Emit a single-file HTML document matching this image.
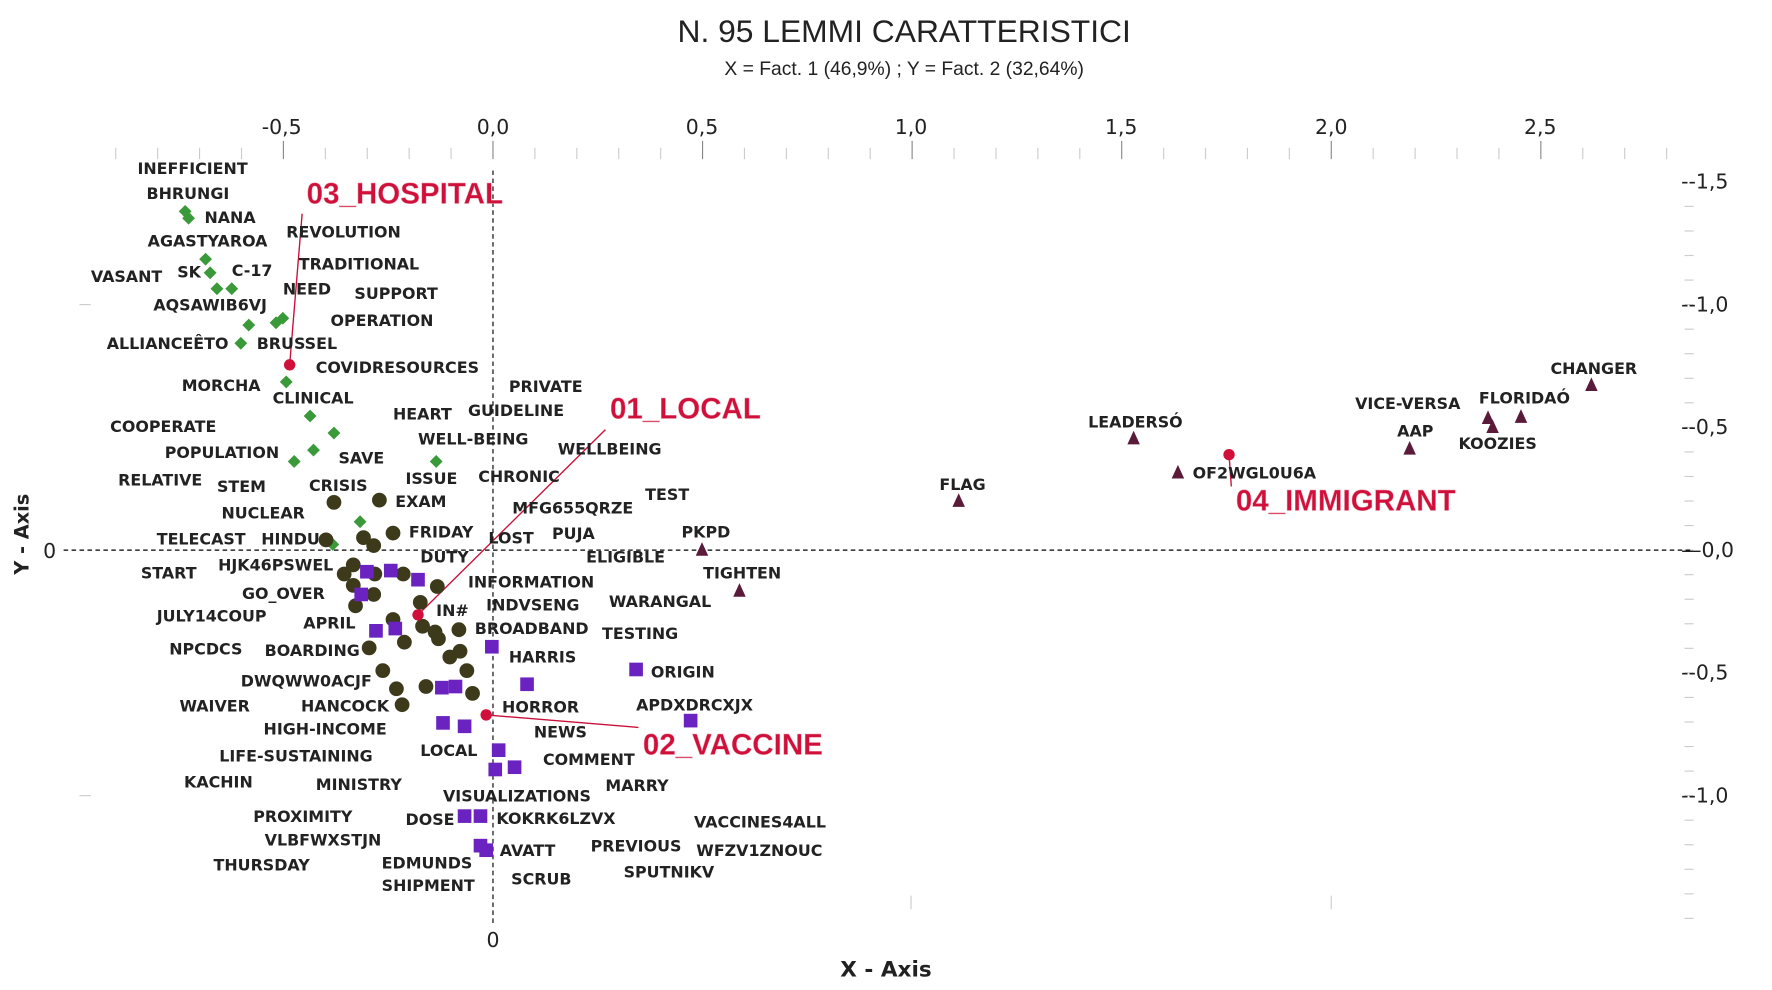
<!DOCTYPE html>
<html><head><meta charset="utf-8"><style>
html,body{margin:0;padding:0;background:#fff;overflow:hidden}
svg{display:block}
.l{font-family:"DejaVu Sans","Liberation Sans",sans-serif;font-weight:bold;font-size:14px;fill:#222}
.r{font-family:"Liberation Sans",sans-serif;font-size:26px;font-weight:bold;fill:#d0103a;stroke:#e8a0b0;stroke-width:0.4}
.t{font-family:"DejaVu Sans","Liberation Sans",sans-serif;font-size:18px;fill:#222}
</style></head><body>
<svg width="1772" height="990" viewBox="0 0 1560 871" preserveAspectRatio="none" xmlns="http://www.w3.org/2000/svg">
<text x="796" y="37" text-anchor="middle" font-family="Liberation Sans,sans-serif" font-size="28" fill="#222">N. 95 LEMMI CARATTERISTICI</text>
<text x="796" y="66" text-anchor="middle" font-family="Liberation Sans,sans-serif" font-size="17" fill="#222">X = Fact. 1 (46,9%) ; Y = Fact. 2 (32,64%)</text>
<g id="ticks" stroke="#bbb" stroke-width="1"></g>
<g class="t">
<text x="248" y="118" text-anchor="middle">-0,5</text><text x="434" y="118" text-anchor="middle">0,0</text><text x="618" y="118" text-anchor="middle">0,5</text><text x="802" y="118" text-anchor="middle">1,0</text><text x="987" y="118" text-anchor="middle">1,5</text><text x="1172" y="118" text-anchor="middle">2,0</text><text x="1356" y="118" text-anchor="middle">2,5</text>
<text x="1480" y="166">--1,5</text><text x="1480" y="274">--1,0</text><text x="1480" y="382">--0,5</text><text x="1480" y="490">—0,0</text><text x="1480" y="598">--0,5</text><text x="1480" y="706">--1,0</text>
<text x="434" y="833" text-anchor="middle">0</text><text x="38" y="491">0</text>
</g>
<text x="780" y="859" text-anchor="middle" font-family="DejaVu Sans,sans-serif" font-weight="bold" font-size="19" fill="#222">X - Axis</text>
<text transform="translate(25,470) rotate(-90)" text-anchor="middle" font-family="DejaVu Sans,sans-serif" font-weight="bold" font-size="17" fill="#222">Y - Axis</text>
<line x1="434" y1="150" x2="434" y2="812" stroke="#000" stroke-dasharray="4,3"/>
<line x1="56" y1="484" x2="1490" y2="484" stroke="#000" stroke-dasharray="4,3"/>
<g stroke="#c8103a" stroke-width="1.2">
<line x1="255" y1="321" x2="266" y2="188"/><line x1="368" y1="541" x2="533" y2="378"/><line x1="428" y1="629" x2="562" y2="640"/><line x1="1082" y1="400" x2="1084" y2="428"/>
</g>
<g id="pts"></g>
<g class="l">
<text x="121" y="153">INEFFICIENT</text><text x="129" y="175">BHRUNGI</text><text x="180" y="196">NANA</text><text x="130" y="217">AGASTYAROA</text><text x="252" y="209">REVOLUTION</text>
<text x="80" y="248">VASANT</text><text x="156" y="244">SK</text><text x="204" y="243">C-17</text><text x="263" y="237">TRADITIONAL</text>
<text x="249" y="259">NEED</text><text x="312" y="263">SUPPORT</text><text x="135" y="273">AQSAWIB6VJ</text><text x="291" y="287">OPERATION</text>
<text x="94" y="307">ALLIANCEÊTO</text><text x="226" y="307">BRUSSEL</text><text x="278" y="328">COVIDRESOURCES</text>
<text x="160" y="344">MORCHA</text><text x="448" y="345">PRIVATE</text><text x="240" y="355">CLINICAL</text><text x="346" y="369">HEART</text><text x="412" y="366">GUIDELINE</text>
<text x="97" y="380">COOPERATE</text><text x="368" y="391">WELL-BEING</text><text x="491" y="400">WELLBEING</text><text x="145" y="403">POPULATION</text><text x="298" y="408">SAVE</text>
<text x="104" y="427">RELATIVE</text><text x="191" y="433">STEM</text><text x="357" y="426">ISSUE</text><text x="421" y="424">CHRONIC</text><text x="272" y="432">CRISIS</text>
<text x="348" y="446">EXAM</text><text x="568" y="440">TEST</text><text x="195" y="456">NUCLEAR</text><text x="451" y="452">MFG655QRZE</text><text x="360" y="473">FRIDAY</text>
<text x="138" y="479">TELECAST</text><text x="230" y="479">HINDU</text><text x="430" y="478">LOST</text><text x="486" y="474">PUJA</text><text x="600" y="473">PKPD</text>
<text x="370" y="495">DUTY</text><text x="516" y="495">ELIGIBLE</text><text x="124" y="509">START</text><text x="192" y="502">HJK46PSWEL</text><text x="619" y="509">TIGHTEN</text>
<text x="412" y="517">INFORMATION</text><text x="213" y="527">GO_OVER</text><text x="536" y="534">WARANGAL</text><text x="428" y="537">INDVSENG</text><text x="138" y="547">JULY14COUP</text>
<text x="267" y="553">APRIL</text><text x="384" y="542">IN#</text><text x="418" y="558">BROADBAND</text><text x="530" y="562">TESTING</text><text x="149" y="576">NPCDCS</text><text x="233" y="577">BOARDING</text>
<text x="448" y="583">HARRIS</text><text x="573" y="596">ORIGIN</text><text x="212" y="604">DWQWW0ACJF</text><text x="158" y="626">WAIVER</text><text x="265" y="626">HANCOCK</text>
<text x="442" y="627">HORROR</text><text x="560" y="625">APDXDRCXJX</text><text x="232" y="646">HIGH-INCOME</text><text x="470" y="649">NEWS</text>
<text x="193" y="670">LIFE-SUSTAINING</text><text x="370" y="665">LOCAL</text><text x="478" y="673">COMMENT</text><text x="162" y="693">KACHIN</text><text x="278" y="695">MINISTRY</text>
<text x="533" y="696">MARRY</text><text x="390" y="705">VISUALIZATIONS</text><text x="223" y="723">PROXIMITY</text><text x="357" y="726">DOSE</text><text x="437" y="725">KOKRK6LZVX</text>
<text x="611" y="728">VACCINES4ALL</text><text x="233" y="744">VLBFWXSTJN</text><text x="440" y="753">AVATT</text><text x="520" y="749">PREVIOUS</text><text x="613" y="753">WFZV1ZNOUC</text>
<text x="188" y="766">THURSDAY</text><text x="336" y="764">EDMUNDS</text><text x="549" y="772">SPUTNIKV</text><text x="336" y="784">SHIPMENT</text><text x="450" y="778">SCRUB</text>
<text x="827" y="431">FLAG</text><text x="958" y="376">LEADERSÓ</text><text x="1050" y="421">OF2WGL0U6A</text><text x="1365" y="329">CHANGER</text>
<text x="1193" y="360">VICE-VERSA</text><text x="1302" y="355">FLORIDAÓ</text><text x="1230" y="384">AAP</text><text x="1284" y="395">KOOZIES</text>
</g>
<g class="r">
<text x="270" y="179">03_HOSPITAL</text><text x="537" y="368">01_LOCAL</text><text x="566" y="664">02_VACCINE</text><text x="1088" y="449">04_IMMIGRANT</text>
</g>
</svg>
<script>
var NS="http://www.w3.org/2000/svg";
function el(p,n,a){var e=document.createElementNS(NS,n);for(var k in a)e.setAttribute(k,a[k]);p.appendChild(e);return e;}
var tk=document.getElementById("ticks");
for(var i=-9;i<=28;i++){var x=434+i*36.9;var maj=(i%5==0);el(tk,"line",{x1:x,y1:maj?124:130,x2:x,y2:140,stroke:maj?"#888":"#ccc"});}
for(var j=-15;j<=14;j++){var y=484-j*21.6;el(tk,"line",{x1:1483,y1:y,x2:1491,y2:y,stroke:"#ccc"});}
[802,1172].forEach(function(x){el(tk,"line",{x1:x,y1:788,x2:x,y2:800,stroke:"#ccc"});});
[268,700].forEach(function(y){el(tk,"line",{x1:70,y1:y,x2:80,y2:y,stroke:"#ccc"});});
var P=document.getElementById("pts");
var g=[[163,186],[166,192],[181,228],[185,240],[191,254],[204,254],[219,286],[243,284],[249,280],[212,302],[252,336],[273,366],[294,381],[276,396],[259,406],[384,406],[317,459],[293,479]];
g.forEach(function(p){el(P,"rect",{x:p[0]-4,y:p[1]-4,width:8,height:8,fill:"#3a9a3a",transform:"rotate(45 "+p[0]+" "+p[1]+")"});});
var c=[[294,442],[334,440],[346,469],[320,473],[329,480],[287,475],[311,497],[303,505],[330,505],[355,505],[313,533],[370,530],[385,516],[329,523],[346,545],[372,551],[383,556],[404,554],[386,562],[356,565],[325,570],[396,578],[337,590],[411,590],[375,604],[349,606],[416,610],[354,620],[405,573],[311,515]];
c.forEach(function(p){el(P,"circle",{cx:p[0],cy:p[1],r:6.5,fill:"#3d3a1c"});});
var s=[[323,503],[344,502],[368,510],[318,523],[331,555],[348,553],[433,569],[464,602],[560,589],[389,605],[401,604],[390,636],[409,639],[608,634],[439,660],[436,677],[453,675],[409,718],[423,718],[423,744],[428,748]];
s.forEach(function(p){el(P,"rect",{x:p[0]-6,y:p[1]-6,width:12,height:12,fill:"#6a22c0"});});
var t=[[618,484],[651,520],[844,441],[998,386],[1037,416],[1241,395],[1310,368],[1314,376],[1339,367],[1401,339]];
t.forEach(function(p){el(P,"polygon",{points:(p[0])+","+(p[1]-7)+" "+(p[0]-5.5)+","+(p[1]+5)+" "+(p[0]+5.5)+","+(p[1]+5),fill:"#5a1a3a"});});
[[255,321],[1082,400],[368,541],[428,629]].forEach(function(p){el(P,"circle",{cx:p[0],cy:p[1],r:5,fill:"#d0103a"});});
</script>
</body></html>
